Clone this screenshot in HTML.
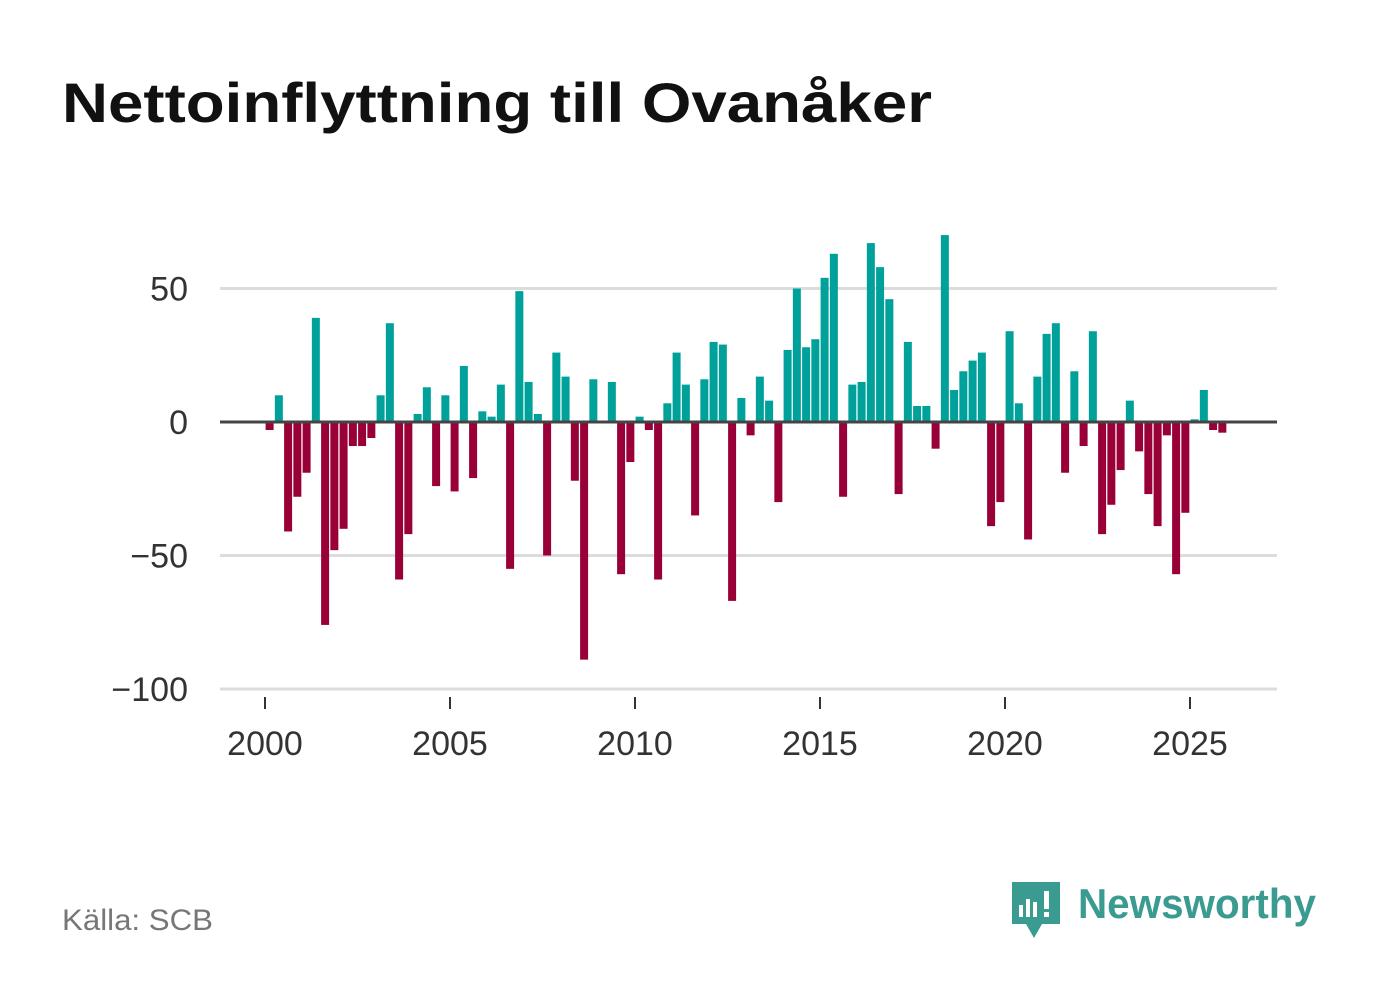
<!DOCTYPE html>
<html><head><meta charset="utf-8"><style>
body{margin:0;background:#fff;width:1382px;height:999px;overflow:hidden;font-family:"Liberation Sans",sans-serif}
</style></head><body>
<svg width="1382" height="999" xmlns="http://www.w3.org/2000/svg">
<text x="62" y="122" font-size="56" font-weight="bold" fill="#111" textLength="870" lengthAdjust="spacingAndGlyphs">Nettoinflyttning till Ovanåker</text>
<g id="grid"></g>
<g id="bars"></g>
<g id="xaxis"></g>
<text x="62" y="930" font-size="30" fill="#777" textLength="151" lengthAdjust="spacingAndGlyphs">Källa: SCB</text>
<g>
<path d="M1012 882 h48 v42 h-18 l-8 14 l-8 -14 h-14 z" fill="#3a9b90"/>
<rect x="1019" y="905" width="4" height="12" fill="#fff"/>
<rect x="1026" y="899" width="4" height="18" fill="#fff"/>
<rect x="1033" y="902" width="4" height="15" fill="#fff"/>
<rect x="1044" y="891" width="5" height="18" fill="#fff"/>
<rect x="1044" y="912" width="5" height="5" fill="#fff"/>
<text x="1078" y="918" font-size="42" font-weight="bold" fill="#3a9b90" textLength="238" lengthAdjust="spacingAndGlyphs">Newsworthy</text>
</g>
</svg>
<script>
const values=[-3,10,-41,-28,-19,39,-76,-48,-40,-9,-9,-6,10,37,-59,-42,3,13,-24,10,-26,21,-21,4,2,14,-55,49,15,3,-50,26,17,-22,-89,16,0,15,-57,-15,2,-3,-59,7,26,14,-35,16,30,29,-67,9,-5,17,8,-30,27,50,28,31,54,63,-28,14,15,67,58,46,-27,30,6,6,-10,70,12,19,23,26,-39,-30,34,7,-44,17,33,37,-19,19,-9,34,-42,-31,-18,8,-11,-27,-39,-5,-57,-34,1,12,-3,-4];
const startYear=2000;
const yTicks=[50,0,-50,-100];
const yTickLabels=["50","0","−50","−100"];
const xTicks=[2000,2005,2010,2015,2020,2025];
const NS="http://www.w3.org/2000/svg";
function y(v){return 422-v*2.67;}
function x(yearFrac){return 265+(yearFrac-2000)*37;}
function mk(tag,attrs,parent){const e=document.createElementNS(NS,tag);for(const k in attrs)e.setAttribute(k,attrs[k]);parent.appendChild(e);return e;}
const grid=document.getElementById('grid'),bars=document.getElementById('bars'),xa=document.getElementById('xaxis');
yTicks.forEach((t,i)=>{
 if(t!==0){const l=mk('line',{x1:220,x2:1277,y1:y(t),y2:y(t),stroke:'#dcdcdc','stroke-width':3},grid);
 
 }
 const tx=mk('text',{x:188,y:y(t)+12,'font-size':34,fill:'#333','text-anchor':'end'},grid);
 tx.textContent=yTickLabels[i];
 
 
});
values.forEach((v,i)=>{
 const cx=x(startYear+i*0.25)+4.6;
 const top=v>=0?y(v):y(0), h=Math.abs(y(v)-y(0));
 const r=mk('rect',{x:cx-4,y:top,width:8,height:h,fill:v>=0?'#00a19a':'#990037'},bars);
 
 
});
const zl=mk('line',{x1:220,x2:1277,y1:y(0),y2:y(0),stroke:'#444','stroke-width':3},bars);


xTicks.forEach(t=>{
 const tl=mk('line',{x1:x(t),x2:x(t),y1:697,y2:709,stroke:'#333','stroke-width':2},xa);
 
 
 const tx=mk('text',{x:x(t),y:755,'font-size':34,fill:'#333','text-anchor':'middle'},xa);
 tx.textContent=t;
 
 
});
</script>
</body></html>
